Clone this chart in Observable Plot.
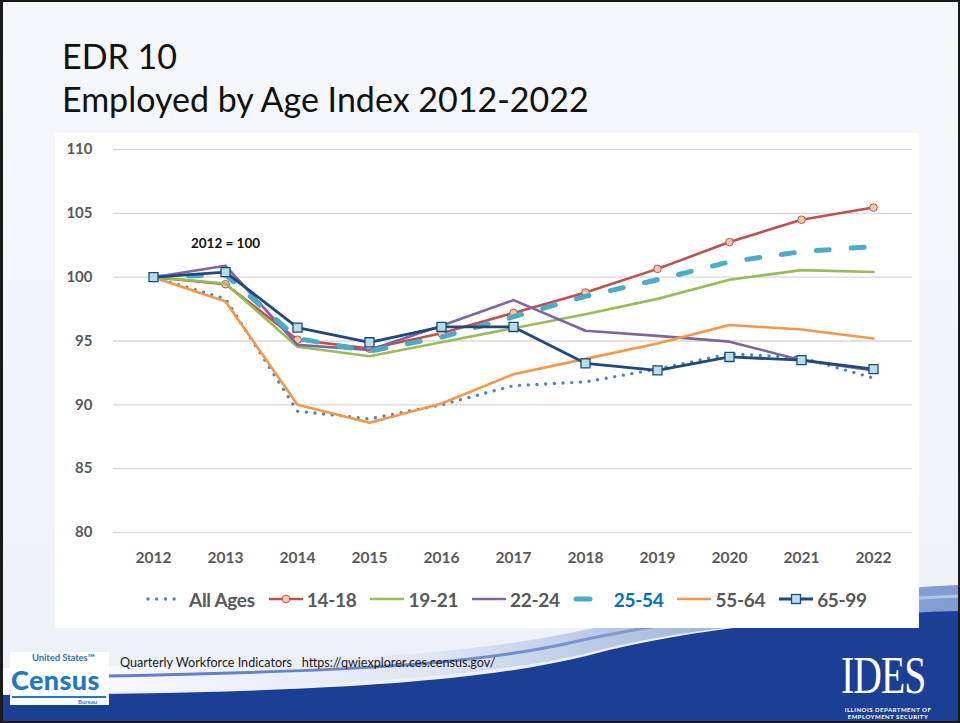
<!DOCTYPE html>
<html>
<head>
<meta charset="utf-8">
<script src="https://cdn.jsdelivr.net/npm/d3@7"></script>
<script src="https://cdn.jsdelivr.net/npm/@observablehq/plot@0.6"></script>
<style>
  html, body { margin: 0; padding: 0; background: #fff; }
  #slide {
    position: relative; width: 960px; height: 723px; box-sizing: border-box;
    border: 2px solid #1a1a1a; border-left-width: 3px; overflow: hidden;
    background: linear-gradient(to bottom, #f6f7fb 0%, #f1f3f8 70%, #eceff6 100%);
    font-family: Lato, "Open Sans", sans-serif;
  }
  .title { position: absolute; left: 59px; font-size: 34px; line-height: 34px; color: #111; white-space: nowrap; }
  #deco { position: absolute; left: -3px; top: -2px; }
  #panel { position: absolute; left: 52px; top: 131px; width: 864px; height: 495px; background: #fff; }
  #chart { position: absolute; left: 0; top: 0; }
  #legend { position: absolute; left: 91px; top: 453px; height: 26px; display: flex; align-items: center; white-space: nowrap; }
  .li { display: flex; align-items: center; margin-right: 13px; }
  .li span { font-weight: bold; font-size: 19px; color: #595959; margin-left: 3px; letter-spacing: -0.3px; }
  #census { position: absolute; left: 7px; top: 650px; width: 99px; height: 53px; background: #fff; }
  #census .us { display: block; margin-left: 22px; font-size: 9.5px; line-height: normal; font-weight: bold; color: #1f78c1; letter-spacing: -0.1px; white-space: nowrap; }
  #census .cn { display: block; margin-left: 1px; font-size: 27px; line-height: normal; font-weight: 900; color: #1f78c1; letter-spacing: 0.4px; white-space: nowrap; }
  #census .bu { display: block; font-size: 6px; line-height: normal; font-weight: bold; color: #1f78c1; border-top: 2px solid #1f78c1; margin-left: 2px; padding-left: 66px; width: 28px; }
  #src { position: absolute; left: 117px; top: 653px; font-size: 12.6px; color: #1a1a1a; white-space: nowrap; }
  #ides { position: absolute; left: 838px; top: 643px; color: #fff; }
  #ides .big { font-family: "Liberation Serif", "DejaVu Serif", serif; font-size: 44px; line-height: normal; transform: scale(0.9, 1.2); transform-origin: left top; letter-spacing: -1px; white-space: nowrap; }
  #ides .small { position: absolute; left: 2px; top: 62px; font-size: 6px; line-height: 6.5px; font-weight: bold; letter-spacing: 0.5px; text-align: center; width: 90px; white-space: nowrap; }
</style>
</head>
<body>
<div id="slide">
  <svg id="deco" width="960" height="723" viewBox="0 0 960 723">
    <defs>
      <linearGradient id="sw" x1="0" y1="0" x2="1" y2="0">
        <stop offset="0" stop-color="#ffffff"/>
        <stop offset="0.45" stop-color="#dfe6f3"/>
        <stop offset="0.75" stop-color="#9fb4dc"/>
        <stop offset="1" stop-color="#7f9bd2"/>
      </linearGradient>
      <linearGradient id="sw2" x1="0" y1="0" x2="1" y2="0">
        <stop offset="0" stop-color="#5d7fc4"/>
        <stop offset="0.5" stop-color="#6f8ecb"/>
        <stop offset="1" stop-color="#b9c8e6"/>
      </linearGradient>
    </defs>
    <path d="M0,668 C250,664 430,660 560,635 C680,610 820,592 960,585 L960,612 C830,616 700,625 600,650 C480,682 250,690 0,694 Z" fill="url(#sw)"/>
    <path d="M105,676 C300,672 450,668 560,645 C660,622 800,603 960,596" fill="none" stroke="url(#sw2)" stroke-width="3"/>
    <path d="M0,695 C250,693 460,688 590,655 C690,628 830,615 960,611 L960,723 L0,723 Z" fill="#1b3f94"/>
  </svg>

  <div class="title" style="top:37px">EDR 10</div>
  <div class="title" style="top:80px">Employed by Age Index 2012-2022</div>

  <div id="panel">
    <div id="chart"></div>
    <div id="legend"></div>
  </div>

  <div id="census"><div class="us">United States™</div><div class="cn">Census</div><div class="bu">Bureau</div></div>
  <div id="src">Quarterly Workforce Indicators&nbsp;&nbsp; https://qwiexplorer.ces.census.gov/</div>
  <div id="ides"><div class="big">IDES</div><div class="small">ILLINOIS DEPARTMENT OF<br>EMPLOYMENT SECURITY</div></div>
</div>

<script>
// ---- data ----
const years = ["2012","2013","2014","2015","2016","2017","2018","2019","2020","2021","2022"];
const seriesNames = ["All Ages","14-18","19-21","22-24","25-54","55-64","65-99"];
const allAges = [100, 98.3, 89.5, 88.9, 90.0, 91.5, 91.8, 92.8, 94.0, 93.7, 92.1];
const age14_18 = [100, 99.45, 95.1, 94.4, 95.6, 97.2, 98.8, 100.65, 102.75, 104.5, 105.45];
const age19_21 = [100, 99.5, 94.55, 93.8, 94.9, 96.0, 97.1, 98.3, 99.8, 100.55, 100.4];
const age22_24 = [100, 100.9, 94.7, 94.3, 96.2, 98.2, 95.8, 95.4, 94.95, 93.5, 92.7];
const age25_54 = [100, 100.2, 95.2, 94.2, 95.3, 96.9, 98.5, 99.8, 101.2, 102.0, 102.4];
const age55_64 = [100, 98.1, 90.0, 88.6, 90.1, 92.4, 93.6, 94.8, 96.25, 95.9, 95.2];
const age65_99 = [100, 100.4, 96.05, 94.9, 96.1, 96.1, 93.25, 92.7, 93.75, 93.5, 92.8];
const yTicks = [80, 85, 90, 95, 100, 105, 110];
const annotation = "2012 = 100";
const annotationAt = {year: "2013", value: 102.6};

// ---- styles ----
const styles = {
  "All Ages": {stroke: "#4f81bd", strokeWidth: 3.4, strokeDasharray: "0,8.7", strokeLinecap: "round"},
  "14-18": {stroke: "#c0504d", strokeWidth: 2.6},
  "19-21": {stroke: "#9bbb59", strokeWidth: 2.6},
  "22-24": {stroke: "#8064a2", strokeWidth: 2.6},
  "25-54": {stroke: "#4bacc6", strokeWidth: 5, strokeDasharray: "13,22", strokeLinecap: "round"},
  "55-64": {stroke: "#f79646", strokeWidth: 2.6},
  "65-99": {stroke: "#1f497d", strokeWidth: 2.8}
};
const valuesBySeries = {
  "All Ages": allAges, "14-18": age14_18, "19-21": age19_21, "22-24": age22_24,
  "25-54": age25_54, "55-64": age55_64, "65-99": age65_99
};
const table = seriesNames.flatMap(s => years.map((y, i) => ({series: s, year: y, value: valuesBySeries[s][i]})));

const marks = [
  Plot.gridY(yTicks, {stroke: "#d9d9d9", strokeOpacity: 1, strokeWidth: 1.4}),
  Plot.axisY(yTicks, {tickSize: 0, tickPadding: 21, fontWeight: "bold", fontSize: 15, fill: "#595959", tickFormat: d => String(d)}),
  Plot.axisX({tickSize: 0, tickPadding: 19, fontWeight: "bold", fontSize: 15.5, fill: "#595959", letterSpacing: "-0.4px"})
];
for (const s of seriesNames) {
  const st = styles[s];
  marks.push(Plot.line(table.filter(d => d.series === s), {x: "year", y: "value", ...st, strokeLinejoin: "round"}));
  if (s === "14-18") {
    marks.push(Plot.dot(table.filter(d => d.series === s), {x: "year", y: "value", r: 3.8, fill: "#f9c9a8", stroke: "#c0504d", strokeWidth: 1}));
  }
  if (s === "65-99") {
    marks.push(Plot.dot(table.filter(d => d.series === s), {x: "year", y: "value", symbol: "square", r: 5.1, fill: "#b7dee8", stroke: "#1f497d", strokeWidth: 1.3}));
  }
}
marks.push(Plot.text([annotationAt], {x: "year", y: "value", text: () => annotation, fontWeight: "bold", fontSize: 13.5, fill: "#111"}));

const chart = Plot.plot({
  width: 864, height: 445,
  marginLeft: 58, marginRight: 7, marginTop: 16, marginBottom: 46,
  style: {fontFamily: "Lato, 'Open Sans', sans-serif", background: "transparent", overflow: "visible"},
  x: {type: "point", domain: years, padding: 0.5, label: null},
  y: {domain: [80, 110], label: null},
  marks
});
document.getElementById("chart").appendChild(chart);

// ---- legend ----
const legend = document.getElementById("legend");
for (const s of seriesNames) {
  const st = styles[s];
  const item = document.createElement("div");
  item.className = "li";
  const ns = "http://www.w3.org/2000/svg";
  const svg = document.createElementNS(ns, "svg");
  const w = s === "25-54" ? 38 : 36;
  svg.setAttribute("width", w); svg.setAttribute("height", 14);
  const line = document.createElementNS(ns, "line");
  if (s === "25-54") {
    line.setAttribute("x1", 3); line.setAttribute("x2", 17);
  } else if (s === "All Ages") {
    line.setAttribute("x1", 2); line.setAttribute("x2", 30);
  } else {
    line.setAttribute("x1", 1); line.setAttribute("x2", 35);
  }
  line.setAttribute("y1", 7); line.setAttribute("y2", 7);
  line.setAttribute("stroke", st.stroke);
  line.setAttribute("stroke-width", s === "25-54" ? 5 : st.strokeWidth);
  if (s === "All Ages") { line.setAttribute("stroke-dasharray", st.strokeDasharray); line.setAttribute("stroke-linecap", "round"); }
  if (s === "25-54") line.setAttribute("stroke-linecap", "round");
  svg.appendChild(line);
  if (s === "14-18") {
    const c = document.createElementNS(ns, "circle");
    c.setAttribute("cx", 18); c.setAttribute("cy", 7); c.setAttribute("r", 3.8);
    c.setAttribute("fill", "#f9c9a8"); c.setAttribute("stroke", "#c0504d");
    svg.appendChild(c);
  }
  if (s === "65-99") {
    const r = document.createElementNS(ns, "rect");
    r.setAttribute("x", 13.5); r.setAttribute("y", 2.5); r.setAttribute("width", 9); r.setAttribute("height", 9);
    r.setAttribute("fill", "#b7dee8"); r.setAttribute("stroke", "#1f497d"); r.setAttribute("stroke-width", 1.3);
    svg.appendChild(r);
  }
  item.appendChild(svg);
  const t = document.createElement("span");
  t.textContent = s;
  if (s === "All Ages") t.style.marginLeft = "7px";
  if (s === "25-54") { t.style.color = "#0070c0"; t.style.marginLeft = "3px"; }
  item.appendChild(t);
  legend.appendChild(item);
}
</script>
</body>
</html>
